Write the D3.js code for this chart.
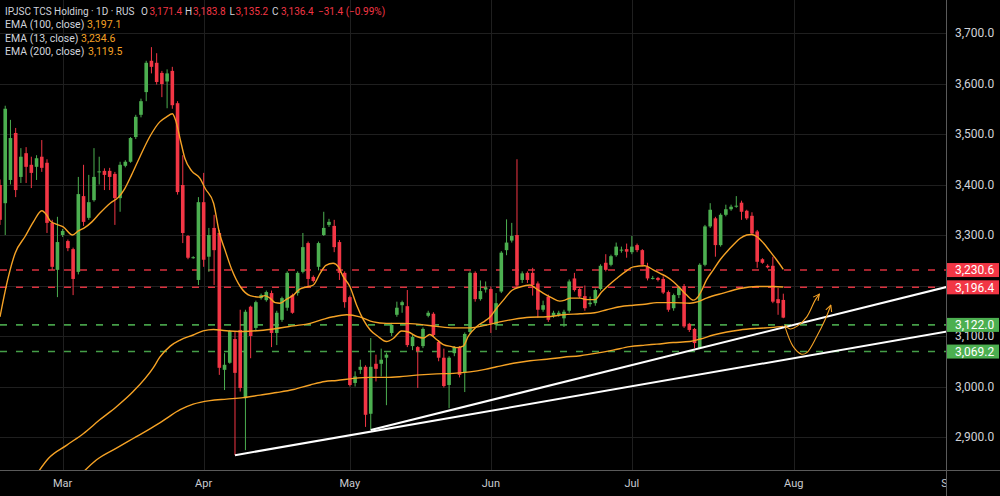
<!doctype html>
<html lang="en">
<head>
<meta charset="UTF-8">
<title>IPJSC TCS Holding · 1D · RUS</title>
<style>
  html, body { margin: 0; padding: 0; background: #000; }
  svg { display: block; font-family: Roboto, "Noto Sans", sans-serif; }
</style>
</head>
<body>
<div id="chart"></div>
<script src="https://d3js.org/d3.v7.min.js"></script>
<script>
// daily candles (index 0 = first visible bar)
const opens = [3399,3363,3409,3502,3415,3462,3439,3435,3455,3443,3324,3231,3300,3288,3272,3227,3377,3334,3369,3424,
  3427,3427,3421,3373,3437,3445,3494,3538,3583,3645,3641,3621,3604,3625,3561,3399,3298,3256,3211,3365,
  3257,3314,3304,3033,3047,3094,3112,2977,3158,3116,3175,3171,3185,3106,3132,3156,3181,3185,3227,3284,
  3217,3237,3300,3320,3318,3286,3225,3177,3007,3033,3039,2946,3045,3045,3057,3106,3142,3161,3159,3080,
  3078,3080,3140,3144,3088,3057,3003,3066,3078,3027,3108,3225,3173,3192,3193,3122,3188,3270,3289,3300,
  3211,3225,3225,3204,3152,3178,3140,3142,3135,3150,3214,3193,3179,3163,3165,3193,3245,3241,3260,3270,
  3272,3266,3280,3270,3237,3215,3215,3213,3187,3155,3181,3199,3124,3114,3076,3241,3317,3333,3280,3340,
  3351,3357,3364,3348,3338,3307,3252,3239,3239,3173,3171.4]
const highs = [3410,3556,3528,3512,3472,3474,3455,3458,3488,3450,3330,3336,3312,3291,3275,3415,3439,3419,3472,3455,
  3432,3433,3425,3445,3448,3494,3538,3570,3645,3672,3660,3625,3628,3633,3565,3458,3300,3258,3375,3423,
  3314,3340,3310,3066,3112,3108,3152,3152,3160,3170,3184,3190,3190,3150,3178,3228,3184,3228,3304,3287,
  3220,3287,3346,3332,3330,3290,3228,3180,3030,3053,3042,3096,3063,3075,3067,3126,3168,3170,3191,3102,
  3080,3117,3150,3147,3092,3075,3060,3080,3080,3107,3228,3228,3210,3208,3198,3185,3268,3331,3324,3450,
  3228,3228,3235,3208,3170,3182,3150,3150,3152,3212,3225,3196,3200,3178,3194,3242,3262,3261,3285,3277,
  3283,3298,3283,3272,3245,3219,3217,3218,3190,3184,3199,3203,3126,3116,3244,3320,3363,3336,3343,3360,
  3360,3377,3368,3350,3345,3310,3254,3242,3257,3195,3183.8]
const lows = [3320,3300,3400,3375,3403,3403,3393,3409,3425,3304,3231,3177,3296,3268,3181,3222,3318,3330,3366,3400,
  3389,3389,3320,3346,3434,3443,3490,3533,3565,3620,3598,3573,3551,3550,3380,3284,3252,3253,3201,3237,
  3227,3201,3023,2993,3045,2864,2990,2874,3056,3110,3172,3168,3078,3082,3128,3150,3144,3180,3224,3195,
  3206,3230,3298,3316,3266,3211,3156,3000,3000,3025,2920,2914,3010,3020,2963,3100,3138,3146,3078,3072,
  2997,3076,3137,3098,3050,2998,2957,3060,3018,2989,3104,3168,3170,3186,3106,3112,3185,3260,3285,3195,
  3205,3205,3180,3136,3148,3128,3136,3138,3118,3146,3188,3175,3150,3158,3160,3190,3228,3238,3257,3265,
  3255,3262,3266,3238,3210,3212,3208,3183,3148,3150,3175,3116,3108,3076,3074,3238,3314,3257,3277,3337,
  3348,3354,3330,3330,3300,3235,3243,3234,3165,3142,3135.2]
const closes = [3330,3550,3492,3389,3455,3435,3423,3452,3433,3324,3237,3286,3308,3274,3213,3381,3326,3365,3415,3426,
  3419,3415,3373,3439,3445,3492,3534,3565,3641,3633,3603,3599,3620,3557,3385,3304,3255,3256,3365,3251,
  3300,3270,3037,3043,3110,3027,2997,3148,3100,3167,3181,3187,3106,3146,3175,3225,3146,3225,3276,3213,
  3209,3284,3314,3326,3276,3225,3167,3003,3020,3039,2944,3039,3035,3053,3063,3122,3156,3167,3082,3098,
  3070,3114,3146,3102,3057,3001,3057,3078,3023,3104,3225,3173,3189,3196,3125,3165,3265,3285,3298,3200,
  3224,3211,3201,3152,3161,3132,3146,3146,3148,3208,3191,3178,3155,3166,3191,3239,3231,3258,3277,3271,
  3267,3277,3270,3241,3214,3215,3211,3186,3152,3181,3196,3119,3112,3086,3241,3317,3350,3280,3340,3351,
  3356,3358,3346,3333,3303,3247,3245,3236,3168,3165,3136.4]

// moving averages: [bar index, value]
const ema13 = [[0,3138],[1.6,3217],[2.9,3264],[4.8,3297],[6.4,3326],[8,3348],[8.9,3340],[9.6,3328],[10.9,3321],[12.1,3316],
  [13.9,3300],[15,3308],[16,3313],[17.6,3326],[19.1,3343],[21.1,3363],[22.7,3375],[23.9,3392],[25.2,3419],[26.8,3455],
  [28.7,3495],[30.6,3524],[31.9,3534],[33,3540],[33.6,3528],[34.5,3490],[35.4,3452],[36.7,3427],[38.3,3412],[39.3,3392],
  [40.9,3363],[42,3305],[43.1,3270],[44.4,3231],[46,3198],[47.9,3180],[49.8,3177],[50.7,3180],[51.7,3175],[52.7,3166],
  [53.6,3165],[54.9,3173],[56.2,3181],[57.4,3193],[58.7,3197],[60,3201],[61.3,3224],[62.4,3240],[63.8,3244],[64.8,3237],
  [65.7,3218],[67,3198],[68.3,3161],[69.6,3132],[70.9,3112],[72.4,3099],[74,3089],[75.3,3095],[76.9,3110],[78.2,3108],
  [79.8,3099],[81.1,3096],[82.3,3103],[83.6,3093],[84.9,3083],[86.5,3079],[87.5,3077],[88.7,3080],[89.7,3100],[91.3,3119],
  [92.9,3130],[93.8,3137],[95.1,3155],[96.4,3171],[98,3190],[99.6,3197],[101.5,3201],[102.8,3193],[104,3185],[105.6,3176],
  [107.2,3169],[108.2,3171],[109.2,3175],[111.1,3175],[112.3,3172],[113.9,3172],[115.2,3187],[116.5,3200],[118.1,3214],[119.7,3227],
  [121.3,3237],[123.5,3239],[125.1,3231],[126.4,3224],[127.7,3217],[128.9,3208],[130.2,3195],[131.5,3181],[132.8,3171],[133.7,3178],
  [134.4,3191],[135.3,3211],[136.6,3231],[137.9,3251],[139.2,3267],[140.4,3280],[141.7,3293],[143,3300],[143.9,3301],[144.9,3297],
  [146.2,3284],[147.5,3267],[148.7,3251],[150,3232]]
const ema100 = [[7,2826],[9.3,2858],[12.8,2884],[16,2907],[19.1,2934],[22.3,2960],[25.5,2990],[29.4,3038],[30.6,3058],[32.6,3080],
  [34.5,3092],[37,3102],[38.9,3110],[40.9,3113],[42.8,3111],[46.6,3109],[49.8,3111],[53,3115],[56.2,3120],[59.4,3125],
  [62.2,3134],[63.8,3138],[66.4,3142],[68.9,3138],[71.5,3128],[74,3125],[77.2,3125],[80.4,3123],[83.6,3119],[86.8,3116],
  [90,3116],[92.9,3121],[95.7,3128],[98.3,3133],[101.5,3137],[104.7,3138],[107.9,3142],[111.1,3144],[113.9,3146],[116.2,3152],
  [118.7,3158],[121.3,3161],[123.5,3163],[125.8,3166],[128.9,3166],[132.1,3165],[133.7,3168],[135.3,3175],[138.5,3185],[141.7,3194],
  [144.9,3198],[148.1,3198],[150,3197]]
const ema200 = [[15.5,2826],[18.5,2855],[22.3,2878],[25.5,2897],[28.7,2916],[30.6,2928],[32.6,2942],[34.5,2954],[37,2965],[40.2,2972],
  [43.4,2975],[46.6,2978],[49.8,2983],[53,2988],[56.2,2994],[59.4,3003],[62.2,3010],[64.5,3012],[67.7,3016],[70.9,3018],
  [74,3018],[77.2,3020],[80.4,3023],[83.6,3025],[86.8,3026],[90,3029],[92.9,3034],[95.1,3039],[98.3,3046],[101.5,3051],
  [104.7,3054],[107.9,3058],[111.1,3061],[114.3,3066],[117.4,3072],[120.6,3079],[123.5,3082],[125.8,3084],[128.9,3087],[132.1,3089],
  [134.1,3094],[136.6,3102],[139.2,3108],[141.7,3112],[144.9,3115],[148.1,3117],[150,3119]]

// drawings: trend lines and the two forecast arrows
const trendLines = [[[45, 2864], [182, 3110]], [[71, 2914], [182, 3199]]]
const forecastA = [[150.3,3122],[151.3,3114],[152.6,3119],[154.5,3138],[156.1,3171],[156.9,3183]]
const forecastB = [[150.3,3119],[151.9,3079],[153.5,3064],[154.5,3067],[156.4,3099],[158,3132],[159.1,3161]]

const levels = [3230.6, 3196.4, 3122.0, 3069.2]
const levelSide = ['down', 'down', 'up', 'up']

const priceTicks = [2900, 3000, 3100, 3200, 3300, 3400, 3500, 3600, 3700]
const monthLabels = ['Mar', 'Apr', 'May', 'Jun', 'Jul', 'Aug', 'Sep']
const monthIndex = [12, 39, 67, 94, 121, 152, 182]

const width = 1000
const height = 496
const plotW = 946.5
const plotH = 470.5

const up = '#4caf50'
const down = '#f23645'
const orange = '#f5a225'

const x = d3.scaleLinear().domain([0, 150]).range([0, 783.3])
const y = d3.scaleLinear().domain([2900, 3700]).range([437, 33])
const fmt = d3.format(',.1f')

const svg = d3.select('#chart').append('svg')
  .attr('width', width).attr('height', height)
  .style('background', '#000')

const defs = svg.append('defs')
defs.append('clipPath').attr('id', 'plot')
  .append('rect').attr('width', plotW).attr('height', plotH)
defs.append('clipPath').attr('id', 'timeclip')
  .append('rect').attr('width', plotW).attr('height', height)
defs.append('marker').attr('id', 'arrow')
  .attr('viewBox', '0 0 10 10').attr('refX', 9).attr('refY', 5)
  .attr('markerWidth', 7).attr('markerHeight', 7).attr('orient', 'auto')
  .append('path').attr('d', 'M1,1 L9,5 L1,9')
  .attr('fill', 'none').attr('stroke', orange).attr('stroke-width', 1.4)

const plot = svg.append('g').attr('clip-path', 'url(#plot)')

// grid
plot.append('g').selectAll('line').data(priceTicks).join('line')
  .attr('x1', 0).attr('x2', plotW)
  .attr('y1', d => Math.round(y(d)) + 0.5).attr('y2', d => Math.round(y(d)) + 0.5)
  .attr('stroke', '#1f1f1f')
plot.append('g').selectAll('line').data(monthIndex).join('line')
  .attr('x1', d => Math.round(x(d)) + 0.5).attr('x2', d => Math.round(x(d)) + 0.5)
  .attr('y1', 0).attr('y2', plotH)
  .attr('stroke', '#1f1f1f')

// horizontal levels
plot.append('g').selectAll('line').data(levels).join('line')
  .attr('x1', 0).attr('x2', plotW)
  .attr('y1', d => y(d)).attr('y2', d => y(d))
  .attr('stroke', (d, i) => levelSide[i] === 'up' ? up : down)
  .attr('stroke-opacity', 0.9)
  .attr('stroke-width', 1.6)
  .attr('stroke-dasharray', '7,9')

// candles
const idx = d3.range(opens.length)
const candles = plot.append('g')
candles.selectAll('line').data(idx).join('line')
  .attr('x1', i => x(i)).attr('x2', i => x(i))
  .attr('y1', i => y(highs[i])).attr('y2', i => y(lows[i]))
  .attr('stroke', i => closes[i] >= opens[i] ? up : down)
  .attr('stroke-width', 1)
candles.selectAll('rect').data(idx).join('rect')
  .attr('x', i => x(i) - 1.8)
  .attr('width', 3.6)
  .attr('y', i => y(Math.max(opens[i], closes[i])))
  .attr('height', i => Math.max(1, Math.abs(y(opens[i]) - y(closes[i]))))
  .attr('fill', i => closes[i] >= opens[i] ? up : down)

// EMAs
const line = d3.line().x(d => x(d[0])).y(d => y(d[1])).curve(d3.curveMonotoneX)
;[ema200, ema100, ema13].forEach(s => {
  plot.append('path').attr('d', line(s))
    .attr('fill', 'none').attr('stroke', orange).attr('stroke-width', 1.4)
})

// trend lines
plot.append('g').selectAll('line').data(trendLines).join('line')
  .attr('x1', d => x(d[0][0])).attr('y1', d => y(d[0][1]))
  .attr('x2', d => x(d[1][0])).attr('y2', d => y(d[1][1]))
  .attr('stroke', '#fff').attr('stroke-width', 2)

// forecast arrows
const curve = d3.line().x(d => x(d[0])).y(d => y(d[1])).curve(d3.curveCatmullRom)
;[forecastA, forecastB].forEach(s => {
  plot.append('path').attr('d', curve(s))
    .attr('fill', 'none').attr('stroke', orange).attr('stroke-width', 1.1)
    .attr('marker-end', 'url(#arrow)')
})

// time axis (labels past the price scale are cut, like "Se")
svg.append('g').attr('clip-path', 'url(#timeclip)')
  .selectAll('text').data(monthIndex).join('text')
  .attr('x', d => x(d)).attr('y', 487)
  .attr('text-anchor', 'middle')
  .attr('fill', '#c9cbd1')
  .attr('font-size', 11)
  .text((d, i) => monthLabels[i])

// borders
svg.append('line').attr('x1', 0).attr('x2', width).attr('y1', plotH).attr('y2', plotH)
  .attr('stroke', '#5a5a5a')
svg.append('line').attr('x1', plotW).attr('x2', plotW).attr('y1', 0).attr('y2', height)
  .attr('stroke', '#5a5a5a')

// price axis
svg.append('g').selectAll('text').data(priceTicks).join('text')
  .attr('x', 955).attr('y', d => y(d)).attr('dy', '0.35em')
  .attr('fill', '#d0d2d8').attr('font-size', 12)
  .text(d => fmt(d))

const badges = svg.append('g').selectAll('g').data(levels).join('g')
badges.append('rect')
  .attr('x', plotW + 0.5).attr('width', width - plotW - 1.5)
  .attr('y', d => y(d) - 7).attr('height', 14)
  .attr('fill', (d, i) => levelSide[i] === 'up' ? up : down)
badges.append('text')
  .attr('x', 955).attr('y', d => y(d)).attr('dy', '0.35em')
  .attr('fill', '#fff').attr('font-size', 12)
  .text(d => fmt(d))

// legend
const legend = svg.append('g').attr('font-size', 10.5)
const head = legend.append('text').attr('y', 15).attr('font-size', 10)
const headParts = [
  [5, 'IPJSC TCS Holding · 1D · RUS', '#d1d4dc'],
  [141, 'O', '#d1d4dc'], [149.5, '3,171.4', down],
  [185, 'H', '#d1d4dc'], [193, '3,183.8', down],
  [229.5, 'L', '#d1d4dc'], [235.5, '3,135.2', down],
  [272, 'C', '#d1d4dc'], [281, '3,136.4', down],
  [318, '−31.4 (−0.99%)', down]
]
headParts.forEach(p => head.append('tspan').attr('x', p[0]).attr('fill', p[2]).text(p[1]))

const emaRows = [
  ['EMA (100, close)', '3,197.1', 87, 28],
  ['EMA (13, close)', '3,234.6', 81, 41.5],
  ['EMA (200, close)', '3,119.5', 88, 55]
]
emaRows.forEach(r => {
  const t = legend.append('text').attr('y', r[3])
  t.append('tspan').attr('x', 5).attr('fill', '#d1d4dc').text(r[0])
  t.append('tspan').attr('x', r[2]).attr('fill', orange).text(r[1])
})
</script>
</body>
</html>
